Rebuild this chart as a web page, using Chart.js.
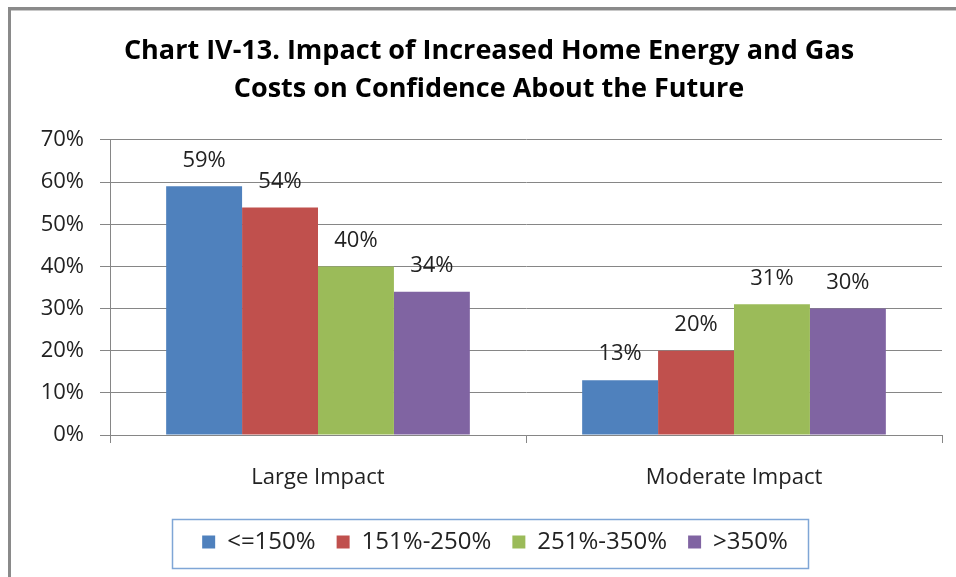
<!DOCTYPE html>
<html>
<head>
<meta charset="utf-8">
<script src="https://cdn.jsdelivr.net/npm/chart.js@4"></script>
<style>
  body { margin: 0; background: #fff; }
  #wrap { width: 956px; height: 577px; }
</style>
</head>
<body>
<div id="wrap"><canvas id="myChart" width="956" height="577"></canvas></div>
<script>
const categorias = ['Large Impact', 'Moderate Impact'];
const series = ['<=150%', '151%-250%', '251%-350%', '>350%'];
const valores150 = [59, 13];
const valores250 = [54, 20];
const valores350 = [40, 31];
const valoresMas350 = [34, 30];
const ticksY = [0, 10, 20, 30, 40, 50, 60, 70];
const colores = ['#4f81bd', '#c0504d', '#9bbb59', '#8064a2'];

const fuente = '"Open Sans", Lato, sans-serif';
const gris = '#868686';

// marco gris de la imagen original y caja de la leyenda
const marcoPlugin = {
    id: 'marco',
    afterLayout(chart) {
        // la leyenda del original esta algo corrida a la derecha
        chart.legend.left += 6;
        chart.legend.right += 6;
    },
    beforeDraw(chart) {
        const ctx = chart.ctx;
        ctx.save();
        ctx.fillStyle = '#8a8a8a';
        ctx.fillRect(8, 7, 948, 3);
        ctx.fillRect(8, 7, 3, 570);
        ctx.fillStyle = '#c8c8c8';
        ctx.fillRect(11, 10, 945, 1);
        ctx.restore();
    },
    afterDraw(chart) {
        const cajas = chart.legend.legendHitBoxes;
        if (!cajas || !cajas.length) return;
        const izq = Math.min(...cajas.map(b => b.left));
        const der = Math.max(...cajas.map(b => b.left + b.width));
        const arriba = cajas[0].top;
        const alto = cajas[0].height;
        const ctx = chart.ctx;
        ctx.save();
        ctx.strokeStyle = '#7fa6d6';
        ctx.lineWidth = 1.5;
        ctx.strokeRect(Math.round(izq - 30) + 0.5, Math.round(arriba + alto / 2 - 23) + 0.5,
            Math.round(der - izq + 50), 49);
        ctx.restore();
    }
};

// etiquetas de valor sobre cada barra
const etiquetasPlugin = {
    id: 'etiquetas',
    afterDatasetsDraw(chart) {
        const ctx = chart.ctx;
        ctx.save();
        ctx.font = '22px ' + fuente;
        ctx.fillStyle = '#222';
        ctx.textAlign = 'center';
        ctx.textBaseline = 'middle';
        chart.data.datasets.forEach((ds, i) => {
            chart.getDatasetMeta(i).data.forEach((barra, j) => {
                ctx.fillText(ds.data[j] + '%', barra.x, barra.y - 26);
            });
        });
        ctx.restore();
    }
};

const datos = [valores150, valores250, valores350, valoresMas350];

const config = {
    type: 'bar',
    data: {
        labels: categorias,
        datasets: series.map((nombre, i) => ({
            label: nombre,
            data: datos[i],
            backgroundColor: colores[i],
            borderWidth: 0,
            categoryPercentage: 0.73,
            barPercentage: 1
        }))
    },
    options: {
        responsive: false,
        animation: false,
        layout: { padding: { left: 36, right: 14, top: 0, bottom: 13 } },
        plugins: {
            title: {
                display: true,
                text: ['Chart IV-13. Impact of Increased Home Energy and Gas', 'Costs on Confidence About the Future'],
                color: '#000',
                font: { family: fuente, size: 27, weight: 'bold', lineHeight: 1.4074 },
                padding: { top: 32, bottom: 32 }
            },
            legend: {
                position: 'bottom',
                labels: {
                    color: '#222',
                    font: { family: fuente, size: 24 },
                    boxWidth: 13,
                    boxHeight: 13,
                    padding: 21
                }
            },
            tooltip: { enabled: false }
        },
        scales: {
            x: {
                afterFit(escala) { escala.height = 74; },
                grid: { display: true, drawOnChartArea: false, color: gris, tickLength: 8 },
                border: { color: gris },
                ticks: { color: '#222', font: { family: fuente, size: 22 }, padding: 22 }
            },
            y: {
                min: 0,
                max: 70,
                afterFit(escala) { escala.width = 74; },
                afterBuildTicks(escala) { escala.ticks = ticksY.map(v => ({ value: v })); },
                grid: { color: gris, tickLength: 10 },
                border: { color: gris },
                ticks: {
                    color: '#222',
                    font: { family: fuente, size: 22 },
                    padding: 16,
                    callback: v => v + '%'
                }
            }
        }
    },
    plugins: [marcoPlugin, etiquetasPlugin]
};

new Chart(document.getElementById('myChart'), config);
</script>
</body>
</html>
